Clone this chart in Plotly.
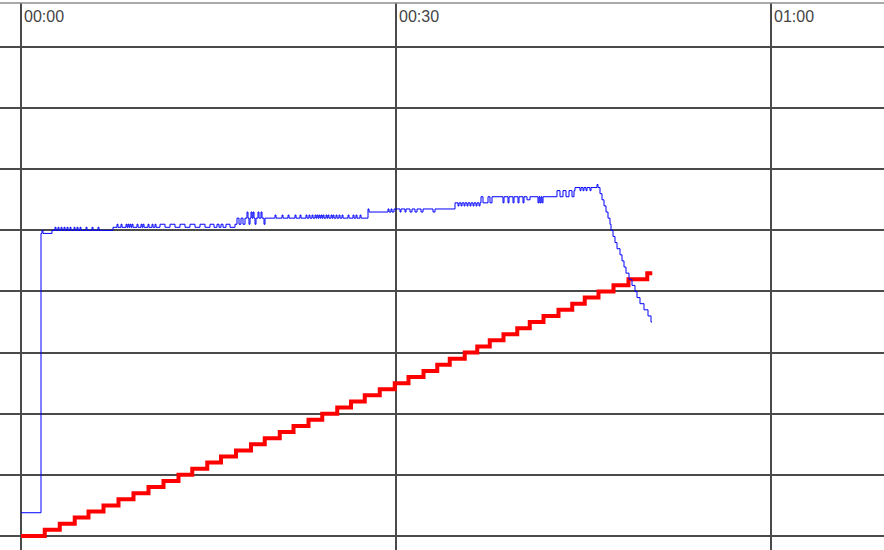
import plotly.graph_objects as go

# time axis in minutes, ticks every 30 min
tick_minutes = [0, 30, 60]
tick_labels = ["00:00", "00:30", "01:00"]

# red series: staircase, one step per riser
red_time = [0, 1.9, 3.1, 4.3, 5.4, 6.6, 7.8, 9.0, 10.2, 11.4, 12.6, 13.7, 14.9, 16.0, 17.2,
            18.4, 19.5, 20.7, 21.8, 23.0, 24.1, 25.3, 26.4, 27.5, 28.7, 29.9, 31.0, 32.2,
            33.3, 34.3, 35.5, 36.5, 37.5, 38.6, 39.7, 40.7, 41.8, 43.0, 44.1, 45.1, 46.2,
            47.4, 48.6, 50.1, 50.5]
red_value = [0, 1, 2, 3, 4, 5, 6, 7, 8, 9, 10, 11, 12, 13, 14,
             15, 16, 17, 18, 19, 20, 21, 22, 23, 24, 25, 26, 27,
             28, 29, 30, 31, 32, 33, 34, 35, 36, 37, 38, 39, 40,
             41, 42, 43, 43]

# blue series: noisy plateau then fast drop
blue_time = [
    0, 1.6, 1.68, 1.76, 2.48,
    2.72, 2.8, 2.96, 3.04, 3.2, 3.28, 3.44, 3.52, 3.68, 3.76, 3.92, 4.0,
    4.24, 4.32, 4.48, 4.56, 4.72, 4.8, 5.2, 5.28, 5.68, 5.76, 6.16, 6.24,
    7.36,
    7.68, 7.76, 8.0, 8.08, 8.4, 8.48, 8.56, 8.64, 8.72, 8.8, 8.88, 8.96,
    9.28, 9.36, 9.6, 9.68, 9.76, 9.84, 10.16, 10.24, 10.48, 10.56, 10.72, 10.8,
    11.12, 11.52, 11.92, 12.32, 12.72, 13.12, 13.52, 13.92, 14.32,
    14.72, 15.12, 15.44, 15.68, 15.84, 16.0, 16.16, 16.4, 16.72,
    17.12, 17.28, 17.44, 17.6, 17.76,
    17.92, 18.08, 18.16, 18.24, 18.32, 18.4, 18.48, 18.56, 18.64,
    18.72, 18.8, 18.96, 19.04, 19.2, 19.28, 19.44, 19.52,
    20.32, 20.4, 20.88, 20.96, 21.36, 21.44, 21.92, 22.0,
    22.32, 22.4, 22.8, 22.88, 23.04, 23.12, 23.28, 23.36,
    23.52, 23.6, 23.68, 23.76, 23.84, 23.92, 24.0, 24.08,
    24.16, 24.24, 24.4, 24.48, 24.56, 24.64, 24.8, 24.88,
    24.96, 25.04, 25.2, 25.28, 25.44, 25.52, 25.68, 25.76,
    26.16, 26.24, 26.56, 26.64, 26.8, 26.88, 27.12, 27.2,
    27.76, 27.84,
    29.36, 29.44, 29.6, 29.68, 29.84,
    30.32, 30.4, 30.72, 30.8, 31.12, 31.28, 31.52, 31.68, 32.0, 32.16, 32.96, 33.12,
    34.72,
    34.96, 35.04, 35.2, 35.28, 35.44, 35.52, 35.68, 35.76,
    35.92, 36.0, 36.16, 36.24, 36.4, 36.48, 36.64, 36.72,
    36.8, 36.96, 37.36, 37.52, 37.68,
    38.56, 38.64, 38.96, 39.04, 39.36, 39.44, 39.76, 39.84, 40.16, 40.24, 40.48, 40.72,
    41.36, 41.44, 41.52, 41.6, 41.68, 41.76,
    42.88, 43.12, 43.36, 43.6, 43.84, 44.08, 44.24,
    44.32, 44.72, 44.8, 44.96, 45.04, 45.2, 45.28, 45.52, 45.6,
    46.08,
    46.16, 46.32, 46.48, 46.64, 46.8, 46.96, 47.12, 47.2, 47.36, 47.52, 47.68, 47.92,
    48.08, 48.24, 48.4, 48.64, 48.88, 49.12, 49.28, 49.52, 49.84, 50.16, 50.4, 50.48,
]
blue_value = [
    3.8, 49.5, 50, 49.5, 50,
    50.5, 50, 50.5, 50, 50.5, 50, 50.5, 50, 50.5, 50, 50.5, 50,
    50.5, 50, 50.5, 50, 50.5, 50, 50.5, 50, 50.5, 50, 50.5, 50,
    50.5,
    51, 50.5, 51, 50.5, 51, 50.5, 51, 50.5, 51, 50.5, 51, 50.5,
    51, 50.5, 51, 50.5, 51, 50.5, 51, 50.5, 51, 50.5, 51, 50.5,
    51, 50.5, 51, 50.5, 51, 50.5, 51, 50.5, 51,
    50.5, 51, 50.5, 51, 50.5, 51, 50.5, 51, 50.5,
    51, 52, 51, 52, 51,
    52, 53, 52, 51, 52, 53, 52, 53, 52,
    51, 52, 53, 52, 53, 52, 51, 52,
    52.5, 52, 52.5, 52, 52.5, 52, 52.5, 52,
    52.5, 52, 52.5, 52, 52.5, 52, 52.5, 52,
    52.5, 52, 52.5, 52, 52.5, 52, 52.5, 52,
    52.5, 52, 52.5, 52, 52.5, 52, 52.5, 52,
    52.5, 52, 52.5, 52, 52.5, 52, 52.5, 52,
    52.5, 52, 52.5, 52, 52.5, 52, 52.5, 52,
    53.5, 53,
    53.5, 53, 53.5, 53, 53.5,
    53, 53.5, 53, 53.5, 53, 53.5, 53, 53.5, 53, 53.5, 53, 53.5,
    54.5,
    54, 54.5, 54, 54.5, 54, 54.5, 54, 54.5,
    54, 54.5, 54, 54.5, 54, 54.5, 54, 54.5,
    55.5, 54.5, 55.5, 54.5, 55.5,
    54.5, 55.5, 54.5, 55.5, 54.5, 55.5, 54.5, 55.5, 54.5, 55.5, 55, 55.5,
    54.5, 55.5, 54.5, 55.5, 54.5, 55.5,
    56.5, 55.5, 56.5, 55.5, 56.5, 55.5, 56.5,
    57, 56.5, 57, 56.5, 57, 56.5, 57, 56.5, 57,
    57.5,
    57, 56, 55, 54, 53, 52, 51, 50, 49, 48, 47, 46,
    45, 44, 43, 42, 41, 40, 39, 38, 37, 36, 35, 35,
]

fig = go.Figure()
fig.add_scatter(x=red_time, y=red_value, mode="lines",
                line=dict(color="#ff0000", width=4, shape="hv"))
fig.add_scatter(x=blue_time, y=blue_value, mode="lines",
                line=dict(color="#0000ff", width=1, shape="hv"))

grid = "#4a4a4a"
fig.update_xaxes(range=[-1.68, 69.04], tickvals=tick_minutes, showticklabels=False,
                 showgrid=True, gridcolor=grid, gridwidth=1.5,
                 zeroline=True, zerolinecolor=grid, zerolinewidth=1.5, ticks="")
fig.update_yaxes(range=[-2.3, 87.2], tick0=0, dtick=10, showticklabels=False,
                 showgrid=True, gridcolor=grid, gridwidth=1.5,
                 zeroline=True, zerolinecolor=grid, zerolinewidth=1.5, ticks="")

for t, lab in zip(tick_minutes, tick_labels):
    fig.add_annotation(x=t, y=1, xref="x", yref="paper", text=lab, showarrow=False,
                       xanchor="left", yanchor="top", xshift=1, yshift=-3,
                       font=dict(family="Liberation Sans", size=16, color="#454545"))

# thin frame line along the top
fig.add_shape(type="line", xref="paper", yref="paper", x0=0, x1=1, y0=1, y1=1,
              line=dict(color="#8c8c8c", width=1.5))

fig.update_layout(width=884, height=550, margin=dict(l=0, r=0, t=3, b=0),
                  plot_bgcolor="white", paper_bgcolor="white", showlegend=False)

# drop the page's default body margin so the chart fills the window
fig.write_html("out.html", config={"displayModeBar": False},
               post_script="document.body.style.margin='0';")
